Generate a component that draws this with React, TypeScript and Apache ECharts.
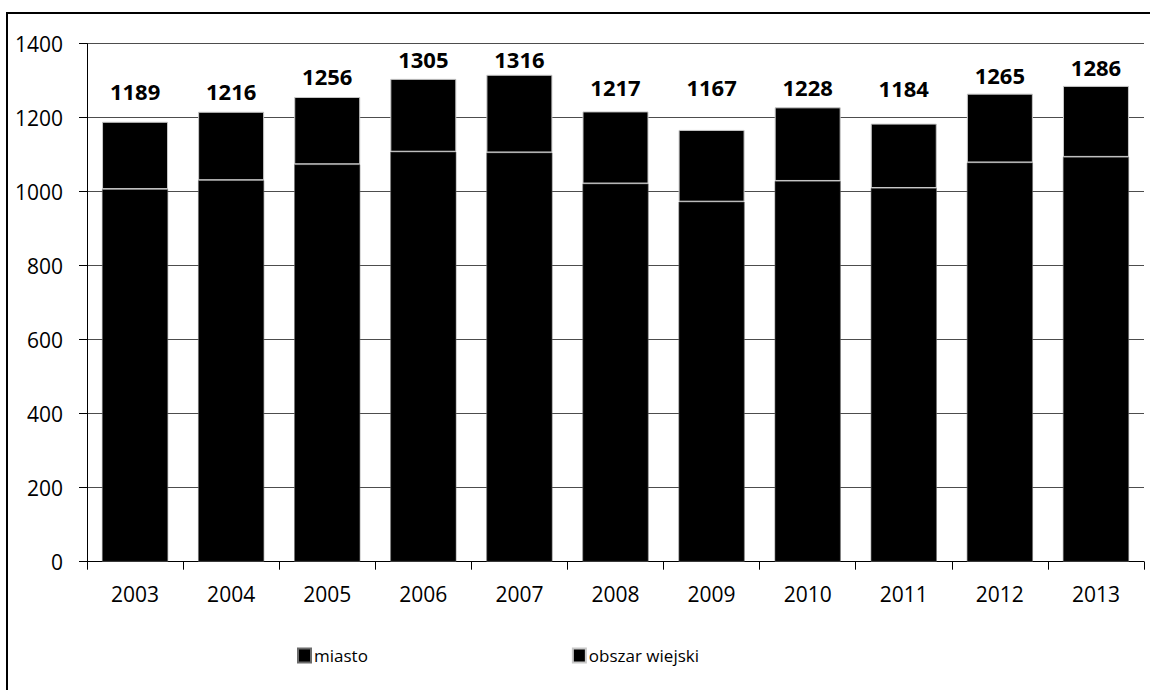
import React, { useEffect, useRef } from "react";
import * as echarts from "echarts";

// Years on the category axis
const years = ["2003", "2004", "2005", "2006", "2007", "2008", "2009", "2010", "2011", "2012", "2013"];
// Urban part (bottom of each stack)
const miasto = [1007, 1031, 1074, 1108, 1106, 1022, 973, 1029, 1010, 1079, 1094];
// Rural part (top of each stack)
const obszarWiejski = [182, 185, 182, 197, 210, 195, 194, 199, 174, 186, 192];
// Value axis ticks
const yTicks = { min: 0, max: 1400, interval: 200 };
// Gap in px between each total label and the top of its bar
const labelGap = [20, 10, 10, 9, 5, 13, 32, 9, 25, 8, 8];

const FONT = "'Open Sans', 'Liberation Sans', sans-serif";

export default function App() {
  const ref = useRef<HTMLDivElement>(null);

  useEffect(() => {
    if (!ref.current) return;
    const chart = echarts.init(ref.current, null, { renderer: "svg" });
    const totals = years.map((_, i) => miasto[i] + obszarWiejski[i]);

    chart.setOption({
      animation: false,
      backgroundColor: "#ffffff",
      textStyle: { fontFamily: FONT, color: "#000" },
      grid: { left: 87, right: 6, top: 43.7, bottom: 128.3, containLabel: false },
      legend: {
        left: 292,
        top: 642,
        itemWidth: 13,
        itemHeight: 14,
        itemGap: 204,
        icon: "rect",
        textStyle: { fontFamily: FONT, fontSize: 17, color: "#000", padding: [0, 0, 0, -2] },
        data: ["miasto", "obszar wiejski"],
      },
      xAxis: {
        type: "category",
        data: years,
        axisLine: { lineStyle: { color: "#000", width: 1 } },
        axisTick: { show: true, length: 8, alignWithLabel: false, lineStyle: { color: "#000" } },
        axisLabel: { fontFamily: FONT, fontSize: 21, color: "#000", margin: 22 },
      },
      yAxis: {
        type: "value",
        min: yTicks.min,
        max: yTicks.max,
        interval: yTicks.interval,
        axisLine: { show: true, lineStyle: { color: "#000", width: 1 } },
        axisTick: { show: true, length: 8, lineStyle: { color: "#000" } },
        axisLabel: {
          fontFamily: FONT,
          fontSize: 21,
          color: "#000",
          margin: 24,
          formatter: (v: number) => String(v),
        },
        splitLine: { show: true, lineStyle: { color: "#4d4d4d", width: 1 } },
      },
      series: [
        {
          name: "miasto",
          type: "bar",
          stack: "total",
          barWidth: 66,
          itemStyle: { color: "#000", borderColor: "#6b6b6b", borderWidth: 0.6 },
          data: miasto,
        },
        {
          name: "obszar wiejski",
          type: "bar",
          stack: "total",
          barWidth: 66,
          itemStyle: { color: "#000", borderColor: "#c8c8c8", borderWidth: 1 },
          data: obszarWiejski.map((v, i) => ({
            value: v,
            label: { distance: labelGap[i] },
          })),
          label: {
            show: true,
            position: "top",
            fontFamily: FONT,
            fontWeight: "bold",
            fontSize: 22,
            lineHeight: 22,
            color: "#000",
            formatter: (p: any) => String(totals[p.dataIndex]),
          },
        },
      ],
      graphic: [
        {
          type: "rect",
          shape: { x: 7, y: 13, width: 1160, height: 700 },
          style: { fill: "none", stroke: "#000", lineWidth: 2 },
          silent: true,
        },
      ],
    });

    return () => chart.dispose();
  }, []);

  return (
    <div
      ref={ref}
      style={{ position: "fixed", left: 0, top: 0, width: 1150, height: 690 }}
    />
  );
}
